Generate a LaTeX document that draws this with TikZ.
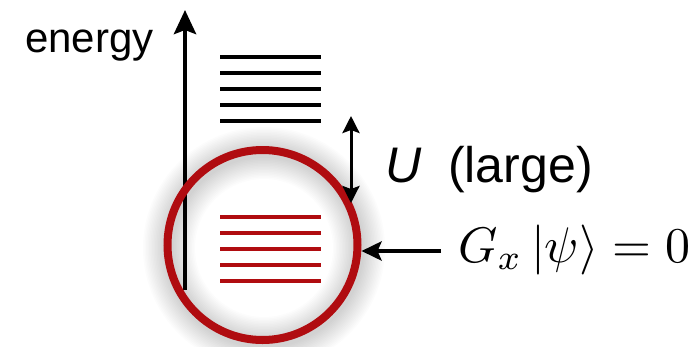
\documentclass[tikz,border=0pt]{standalone}
\usepackage{fontspec}
\setmainfont{Liberation Sans}
\usepackage{graphicx}
\usetikzlibrary{arrows.meta}
\definecolor{lvred}{RGB}{176,12,16}
\tikzset{
  blacklevel/.style={line width=4pt, black},
  redlevel/.style={line width=3.2pt, lvred},
  bigarrow/.style={line width=4.5pt, -{Stealth[length=24pt,width=22pt,inset=4pt]}},
  uarrow/.style={line width=3pt, {Stealth[length=17pt,width=17pt,inset=3pt]}-{Stealth[length=17pt,width=17pt,inset=3pt]}},
  garrow/.style={line width=4pt, -{Stealth[length=20pt,width=19pt,inset=4pt]}},
}
\begin{document}
\begin{tikzpicture}[x=1pt,y=-1pt]
\useasboundingbox (0,0) rectangle (697,346);
% shadow glow
\foreach \w in {52,49,...,10}{
  \draw[black, opacity=0.012, line width=\w pt] (264,248) circle[radius=95];
}
% energy axis
\coordinate (ebot) at (185,290);
\coordinate (etop) at (185,10);
\draw[bigarrow] (ebot) -- (etop);
\node[anchor=base west, inner sep=0pt, font=\fontsize{42}{50}\selectfont] (energy) at (25,52) {energy};
% black levels
\foreach \y [count=\i] in {57,73,89,105,121}{
  \draw[blacklevel] (220,\y) coordinate (bl\i) -- (321,\y) coordinate (br\i);
}
% red levels
\foreach \y [count=\i] in {217,233,249,265,281}{
  \draw[redlevel] (220,\y) coordinate (rl\i) -- (321,\y) coordinate (rr\i);
}
% red circle
\node[draw=lvred, line width=8pt, circle, minimum size=190pt, inner sep=0pt] (ring) at (262.5,245) {};
% U arrow
\coordinate (utop) at (351,116);
\coordinate (ubot) at (351,203);
\draw[uarrow] (utop) -- (ubot);
\node[anchor=base west, inner sep=0pt, font=\fontsize{50}{60}\selectfont\itshape] (U) at (385,182) {U};
\node[anchor=base west, inner sep=0pt, font=\fontsize{50}{60}\selectfont] (large) at (448,182) {(large)};
% G arrow
\node[anchor=base west, inner sep=0pt] (G) at (458,262) {\scalebox{5.0}{$G_x\,|\psi\rangle = 0$}};
\coordinate (gstart) at (441,251);
\draw[garrow] (gstart) -- (ring.east |- gstart);
\end{tikzpicture}
\end{document}
